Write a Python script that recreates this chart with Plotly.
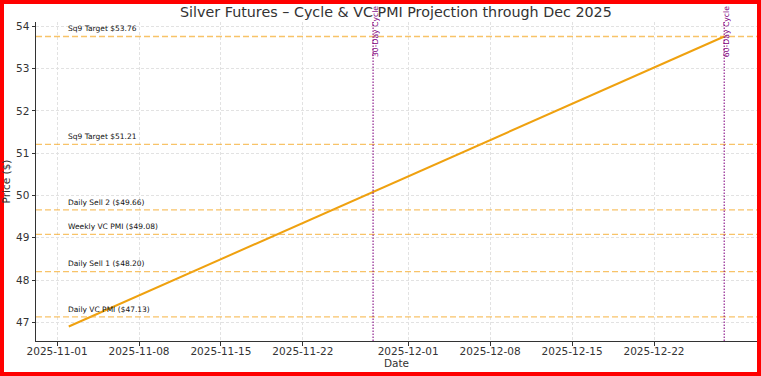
import plotly.graph_objects as go

# ---- data ----
dates = ["2025-11-02", "2025-12-28"]
prices = [46.90, 53.76]

level_names = ["Sq9 Target $53.76", "Sq9 Target $51.21", "Daily Sell 2 ($49.66)",
               "Weekly VC PMI ($49.08)", "Daily Sell 1 ($48.20)", "Daily VC PMI ($47.13)"]
level_values = [53.76, 51.21, 49.66, 49.08, 48.20, 47.13]

cycle_names = ["30-Day Cycle", "60-Day Cycle"]
cycle_dates = ["2025-11-28", "2025-12-28"]

x_tick_vals = ["2025-11-01", "2025-11-08", "2025-11-15", "2025-11-22",
               "2025-12-01", "2025-12-08", "2025-12-15", "2025-12-22"]
y_tick_vals = [47, 48, 49, 50, 51, 52, 53, 54]

title_text = "Silver Futures \u2013 Cycle & VC PMI Projection through Dec 2025"

# ---- layout geometry ----
W, H = 761, 376
L, R, T, B = 36, 4, 22, 35
pw, ph = W - L - R, H - T - B

def px_x(p):
    return (p - L) / pw

def px_y(p):
    return (H - B - p) / ph

FONT = "DejaVu Sans"
TXT = "#333333"
LINE_C = "#EFA10F"
LEVEL_C = "rgba(245,170,40,0.7)"
CYC_C = "rgba(128,0,128,0.8)"

fig = go.Figure()
fig.add_trace(go.Scatter(x=dates, y=prices, mode="lines",
                         line=dict(color=LINE_C, width=2), showlegend=False,
                         hoverinfo="skip"))

shapes = []
annotations = []
for name, val in zip(level_names, level_values):
    shapes.append(dict(type="line", xref="x domain", x0=0, x1=1, yref="y", y0=val, y1=val,
                       line=dict(color=LEVEL_C, width=1.3, dash="6px,3px")))
    annotations.append(dict(x=dates[0], y=val + 0.1, xref="x", yref="y", text=name,
                            showarrow=False, xanchor="left", yanchor="bottom",
                            xshift=-3, yshift=-3,
                            font=dict(family=FONT, size=7.5, color="#111111")))

for name, d in zip(cycle_names, cycle_dates):
    shapes.append(dict(type="line", xref="x", x0=d, x1=d, yref="y domain", y0=0, y1=1,
                       line=dict(color=CYC_C, width=1.3, dash="1.5px,1.5px")))
    annotations.append(dict(x=d, y=px_y(31.5), xref="x", yref="paper", text=name,
                            showarrow=False, textangle=-90, xanchor="center", yanchor="middle",
                            xshift=2.5, font=dict(family=FONT, size=7.7, color="purple")))

# red border
shapes.append(dict(type="rect", xref="paper", yref="paper",
                   x0=px_x(2), x1=px_x(759), y0=px_y(374), y1=px_y(2),
                   line=dict(color="#ff0000", width=4), fillcolor="rgba(0,0,0,0)", layer="above"))

annotations.append(dict(x=px_x(396), y=px_y(12), xref="paper", yref="paper", text=title_text,
                        showarrow=False, xanchor="center", yanchor="middle",
                        font=dict(family=FONT, size=14.3, color=TXT)))

fig.update_layout(
    width=W, height=H,
    margin=dict(l=L, r=R, t=T, b=B, pad=0),
    paper_bgcolor="white", plot_bgcolor="white",
    font=dict(family=FONT, size=10.5, color=TXT),
    shapes=shapes, annotations=annotations,
    showlegend=False,
    xaxis=dict(
        type="date",
        range=["2025-10-30 04:48", "2025-12-30 19:12"],
        tickvals=x_tick_vals, ticktext=x_tick_vals,
        showgrid=True, gridcolor="#e2e2e2", gridwidth=0.8, griddash="3px,2px",
        showline=True, linecolor="#333333", linewidth=1, mirror=False,
        ticks="outside", ticklen=3.5, tickwidth=0.8, tickcolor="#333333",
        ticklabelstandoff=-3,
        tickfont=dict(family=FONT, size=10.5, color=TXT),
        title=dict(text="Date", font=dict(family=FONT, size=10.5, color=TXT), standoff=0),
        zeroline=False,
    ),
    yaxis=dict(
        range=[46.557, 54.103],
        tickvals=y_tick_vals,
        showgrid=True, gridcolor="#e2e2e2", gridwidth=0.8, griddash="3px,2px",
        showline=True, linecolor="#333333", linewidth=1, mirror=False,
        ticks="outside", ticklen=3.5, tickwidth=0.8, tickcolor="#333333",
        tickfont=dict(family=FONT, size=10.5, color=TXT),
        title=dict(text="Price ($)", font=dict(family=FONT, size=10.5, color=TXT), standoff=4),
        zeroline=False,
    ),
)

fig.write_html("out.html")
